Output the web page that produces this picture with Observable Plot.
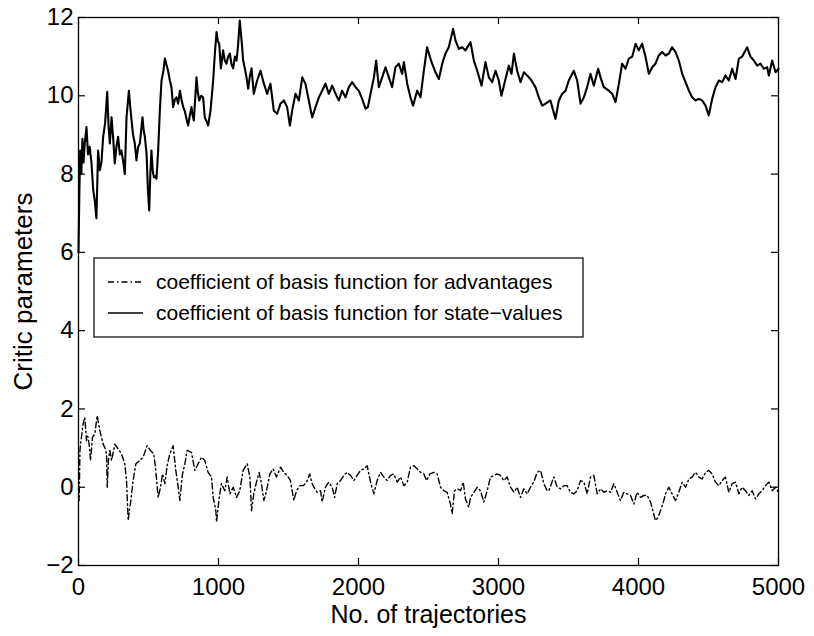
<!DOCTYPE html>
<html>
<head>
<meta charset="utf-8">
<script src="https://cdn.jsdelivr.net/npm/d3@7"></script>
<script src="https://cdn.jsdelivr.net/npm/@observablehq/plot@0.6"></script>
<style>
  html, body { margin: 0; padding: 0; background: #fff; }
  #chart { width: 814px; height: 636px; }
</style>
</head>
<body>
<div id="chart"></div>
<script>
const xTicks = [0, 1000, 2000, 3000, 4000, 5000];
const yTicks = [-2, 0, 2, 4, 6, 8, 10, 12];
const xLabel = "No. of trajectories";
const yLabel = "Critic parameters";
const seriesNames = [
  "coefficient of basis function for advantages",
  "coefficient of basis function for state\u2212values"
];

// [trajectory, value]
const stateValues = [
[0,6.0],[6,7.5],[12,8.6],[20,8.0],[28,8.9],[36,8.3],[45,8.8],[57,9.2],[68,8.5],[80,8.7],[93,8.27],[105,7.6],[117,7.3],[128,6.87],[140,8.6],[152,8.1],[164,8.3],[176,8.95],[190,9.3],[205,10.1],[215,9.2],[224,8.78],[236,9.45],[248,8.9],[259,8.27],[271,8.7],[283,8.95],[295,8.5],[307,8.6],[320,8.3],[331,8.0],[343,9.45],[360,10.13],[370,9.7],[379,9.37],[390,9.0],[402,8.78],[414,8.35],[426,8.7],[438,8.78],[450,9.2],[457,9.45],[466,9.1],[474,8.95],[486,8.52],[496,7.6],[505,7.07],[513,8.0],[521,8.6],[530,8.1],[538,7.92],[548,7.95],[557,7.88],[569,8.6],[581,9.62],[593,10.39],[605,10.6],[617,10.95],[628,10.8],[640,10.64],[652,10.4],[664,10.22],[676,9.71],[688,9.9],[700,9.96],[712,9.8],[724,10.13],[736,9.9],[748,9.71],[760,9.6],[772,9.4],[783,9.24],[795,9.5],[807,9.71],[815,9.5],[824,9.37],[843,10.47],[852,10.1],[862,9.88],[876,10.0],[890,9.96],[902,9.45],[914,9.35],[926,9.24],[943,9.62],[962,10.39],[974,11.08],[986,11.63],[995,11.4],[1005,11.33],[1017,10.7],[1033,11.16],[1045,10.9],[1057,10.82],[1069,11.0],[1081,11.08],[1093,10.8],[1105,10.7],[1117,11.0],[1129,10.9],[1140,11.3],[1152,11.92],[1169,11.24],[1176,10.9],[1188,10.7],[1200,10.47],[1212,10.18],[1224,10.5],[1236,10.7],[1252,10.05],[1276,10.39],[1300,10.64],
[1324,10.31],[1348,10.05],[1371,10.31],[1395,9.62],[1419,9.54],[1443,9.8],[1467,9.88],[1490,9.71],[1510,9.24],[1526,9.62],[1550,10.05],[1574,9.88],[1598,10.47],[1621,10.31],[1645,9.88],[1669,9.45],[1693,9.71],[1717,9.96],[1740,10.13],[1764,10.31],[1788,10.05],[1812,10.26],[1836,10.05],[1860,9.88],[1883,10.13],[1907,9.96],[1931,10.22],[1955,10.35],[1979,10.22],[2002,10.13],[2026,9.92],[2050,9.67],[2067,9.71],[2086,10.05],[2110,10.47],[2126,10.9],[2145,10.22],[2169,10.47],[2193,10.73],[2217,10.47],[2240,10.22],[2264,10.73],[2288,10.82],[2312,10.56],[2324,10.86],[2348,10.31],[2371,9.96],[2390,9.75],[2419,10.13],[2443,9.96],[2467,10.64],[2490,11.24],[2514,10.95],[2526,10.82],[2550,10.6],[2574,10.43],[2598,10.82],[2621,11.08],[2645,11.24],[2676,11.71],[2693,11.41],[2717,11.2],[2740,11.24],[2764,11.16],[2800,11.37],[2824,10.9],[2848,10.64],[2879,10.26],[2907,10.86],[2931,10.47],[2955,10.35],[2979,10.64],[3002,10.39],[3021,10.0],[3050,10.43],[3074,10.77],[3093,10.56],[3110,11.08],[3133,10.64],[3157,10.35],[3181,10.6],[3205,10.52],[3236,10.39],[3264,10.22],[3288,9.96],[3312,9.75],[3336,9.8],[3371,9.88],[3407,9.41],[3431,9.88],[3455,10.05],[3479,10.13],[3502,10.39],[3538,10.64],[3562,10.39],[3586,9.8],[3610,9.96],[3633,10.22],[3657,10.56],[3681,10.26],[3712,10.69],[3729,10.47],[3752,10.22],[3788,10.13],[3812,10.05],[3836,9.84],[3860,10.31],[3883,10.82],[3907,10.69],[3931,10.95],[3955,11.0],[3979,11.33],[4002,11.16],[4026,11.33],[4050,11.0],[4074,10.56],[4098,10.73],[4121,10.82],[4145,11.03],[4169,11.12],[4193,11.03],[4217,11.08],[4240,11.24],[4264,11.12],[4288,10.9],[4312,10.56],[4336,10.35],[4360,10.13],[4383,9.96],[4407,9.88],[4431,9.92],[4455,9.88],[4479,9.75],[4502,9.5],[4526,9.92],[4550,10.22],[4574,10.39],[4598,10.35],[4621,10.52],[4645,10.39],[4669,10.69],[4693,10.43],[4717,10.95],[4740,11.0],[4776,11.24],[4800,11.0],[4824,10.9],[4848,10.77],[4871,10.82],[4895,10.69],[4919,10.73],[4931,10.52],[4955,10.9],[4979,10.6],[5000,10.69]
];

const advantageValues = [
[0,-0.2],[5,-0.34],[10,0.9],[14,1.1],[22,1.3],[33,1.62],[45,1.79],[57,1.19],[66,1.3],[76,1.1],[86,0.68],[100,1.28],[117,1.36],[133,1.83],[152,1.45],[176,1.1],[190,1.0],[200,0.85],[205,0],[214,0.7],[224,0.94],[236,0.68],[260,1.1],[283,0.98],[307,0.85],[331,0.6],[343,0.17],[355,-0.85],[363,-0.6],[371,-0.43],[390,0.17],[410,0.6],[438,0.68],[462,0.77],[490,1.06],[514,0.94],[538,0.85],[552,0.43],[569,-0.26],[586,0],[600,0.34],[617,0.09],[633,0.55],[652,0.85],[676,1.06],[695,0.43],[712,0],[724,-0.34],[743,0.34],[760,0.6],[776,0.94],[807,0.89],[831,0.43],[855,0.6],[879,0.77],[902,0.68],[926,0.38],[950,0.26],[962,-0.26],[981,-0.6],[986,-0.89],[1005,-0.26],[1021,0.09],[1045,-0.09],[1062,0.26],[1081,-0.17],[1105,0],[1129,-0.26],[1152,-0.09],[1176,0.43],[1205,0.6],[1224,0.26],[1236,-0.6],[1252,-0.17],[1271,0.13],[1290,0.38],[1307,0.09],[1324,-0.34],[1343,-0.09],[1367,0.34],[1390,0.47],[1414,0.26],[1443,0.51],[1467,0.38],[1490,0.3],[1514,0.17],[1538,-0.34],[1557,-0.09],[1581,0.04],[1605,0.04],[1629,0.13],[1652,0.34],[1668,0.1],[1681,0],[1705,-0.13],[1729,-0.09],[1740,-0.38],[1764,0],[1788,0.13],[1812,0],[1829,-0.26],[1848,0.09],[1871,0.17],[1895,0.3],[1919,0.38],[1943,0.3],[1967,0.17],[1990,0.3],[2014,0.43],[2038,0.47],[2062,0.55],[2086,0.13],[2110,-0.17],[2133,0.17],[2157,0.38],[2181,0.26],[2205,0.17],[2229,0.3],[2252,0.34],[2276,0.13],[2300,0.26],[2324,0.04],[2348,0.13],[2371,0.51],[2395,0.55],[2419,0.47],[2443,0.38],[2467,0.34],[2486,0.17],[2510,0.34],[2538,0.38],[2562,0.34],[2586,0],[2610,-0.09],[2633,-0.13],[2657,-0.43],[2669,-0.68],[2686,-0.09],[2705,-0.04],[2729,-0.09],[2748,0.13],[2764,-0.3],[2788,-0.51],[2800,-0.26],[2824,-0.13],[2848,0],[2871,-0.09],[2895,-0.38],[2919,-0.09],[2943,0.26],[2967,0.3],[2990,0.34],[3014,0.3],[3038,0.17],[3062,0.26],[3086,0],[3110,-0.13],[3133,0],[3157,-0.26],[3181,-0.04],[3205,-0.17],[3229,0],[3252,0.13],[3276,0.38],[3300,0.43],[3324,0.09],[3348,-0.09],[3360,-0.09],[3395,0.26],[3419,0],[3443,-0.04],[3467,0.04],[3490,0.04],[3514,-0.13],[3538,-0.17],[3562,-0.09],[3586,0.17],[3610,0.13],[3633,-0.17],[3657,0.26],[3681,0.3],[3705,-0.17],[3729,-0.04],[3752,-0.13],[3776,-0.09],[3800,-0.13],[3824,0.09],[3848,-0.13],[3871,-0.34],[3895,-0.13],[3919,-0.17],[3943,-0.21],[3967,-0.43],[3990,-0.13],[4014,-0.26],[4038,-0.21],[4062,-0.21],[4086,-0.38],[4102,-0.6],[4121,-0.85],[4140,-0.77],[4157,-0.6],[4174,-0.43],[4193,-0.17],[4217,0],[4240,-0.17],[4264,-0.34],[4288,-0.13],[4312,0.13],[4336,0],[4360,0.21],[4383,0.26],[4407,0.38],[4431,0.26],[4455,0.21],[4479,0.38],[4502,0.43],[4526,0.34],[4550,0.13],[4574,0.04],[4598,0.17],[4621,0.26],[4645,-0.13],[4669,0.09],[4693,0.13],[4717,-0.17],[4740,0],[4764,-0.09],[4788,-0.21],[4812,-0.09],[4836,-0.3],[4860,-0.17],[4883,-0.09],[4907,0.04],[4931,0.13],[4955,-0.09],[4979,0],[5000,-0.13]
];

const font = "'Liberation Sans', Arial, Helvetica, sans-serif";
const dashDot = "6,3,1.5,3";

const W = 814, H = 636, mL = 78, mR = 36, mT = 17, mB = 71;
const frameW = W - mL - mR, frameH = H - mT - mB;
const tickLen = 7;

const chart = Plot.plot({
  width: W,
  height: H,
  marginLeft: mL,
  marginRight: mR,
  marginTop: mT,
  marginBottom: mB,
  style: { fontFamily: font, background: "#fff", color: "#000", overflow: "visible" },
  x: { domain: [0, 5000] },
  y: { domain: [-2, 12] },
  marks: [
    Plot.line(advantageValues, { x: d => d[0], y: d => d[1], stroke: "#000", strokeWidth: 1.4, strokeDasharray: dashDot }),
    Plot.line(stateValues, { x: d => d[0], y: d => d[1], stroke: "#000", strokeWidth: 2.1 }),
    Plot.frame({ stroke: "#000", strokeWidth: 1.3 }),
    // inward tick marks on all four sides
    Plot.ruleX(xTicks, { x: d => d, insetTop: frameH - tickLen, stroke: "#000", strokeWidth: 1.2 }),
    Plot.ruleX(xTicks, { x: d => d, insetBottom: frameH - tickLen, stroke: "#000", strokeWidth: 1.2 }),
    Plot.ruleY(yTicks, { y: d => d, insetRight: frameW - tickLen, stroke: "#000", strokeWidth: 1.2 }),
    Plot.ruleY(yTicks, { y: d => d, insetLeft: frameW - tickLen, stroke: "#000", strokeWidth: 1.2 }),
    // tick labels
    Plot.axisX({ ticks: xTicks, anchor: "bottom", tickSize: 0, tickPadding: 12, fontSize: 24, label: null, tickFormat: d => String(d) }),
    Plot.axisY({ ticks: yTicks, anchor: "left", tickSize: 0, tickPadding: 5, fontSize: 24, label: null, tickFormat: d => (d < 0 ? "\u2212" + Math.abs(d) : String(d)) }),
    // axis titles
    Plot.text([xLabel], { frameAnchor: "bottom", dy: 49, fontSize: 25, fill: "#000", lineAnchor: "middle", textAnchor: "middle" }),
    Plot.text([yLabel], { frameAnchor: "left", dx: -55, rotate: -90, fontSize: 26, fill: "#000", lineAnchor: "middle", textAnchor: "middle" })
  ]
});

document.getElementById("chart").appendChild(chart);

// legend box inside the axes
const svg = d3.select(chart);
const lg = svg.append("g").attr("font-family", font).attr("font-size", 21).attr("text-anchor", "start");
lg.append("rect").attr("x", 94).attr("y", 258).attr("width", 489).attr("height", 79)
  .attr("fill", "#fff").attr("stroke", "#000").attr("stroke-width", 1.2);
const rows = [
  { name: seriesNames[0], y: 282, dash: dashDot },
  { name: seriesNames[1], y: 313, dash: null }
];
rows.forEach(r => {
  lg.append("line").attr("x1", 108).attr("x2", 143).attr("y1", r.y).attr("y2", r.y)
    .attr("stroke", "#000").attr("stroke-width", 1.3).attr("stroke-dasharray", r.dash);
  lg.append("text").attr("x", 156).attr("y", r.y).attr("dy", "0.35em")
    .attr("text-anchor", "start").attr("fill", "#000").text(r.name);
});
</script>
</body>
</html>
